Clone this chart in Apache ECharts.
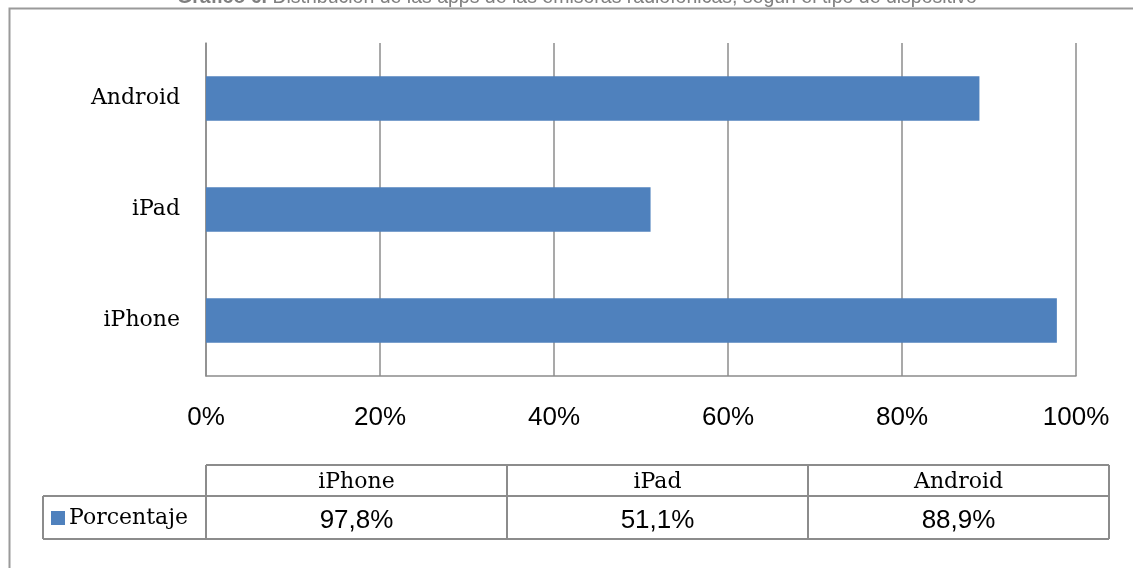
<!DOCTYPE html>
<html>
<head>
<meta charset="utf-8">
<script src="https://cdn.jsdelivr.net/npm/echarts@6/dist/echarts.min.js"></script>
<style>html,body{margin:0;padding:0;background:#fff;}#c{width:1133px;height:568px;}</style>
</head>
<body>
<div id="c"></div>
<script>
const titleBold = 'Gráfico 6.';
const titleRest = ' Distribución de las apps de las emisoras radiofónicas, según el tipo de dispositivo';
const categories = ['iPhone', 'iPad', 'Android'];
const seriesName = 'Porcentaje';
const values = [97.8, 51.1, 88.9];
const valueLabels = ['97,8%', '51,1%', '88,9%'];
const tickValues = [0, 20, 40, 60, 80, 100];

const W = 1133, H = 568;
const plot = {left: 206, right: 1076, top: 43, bottom: 376};
const table = {left: 206, right: 1109, legendLeft: 43, top: 465, mid: 496, bottom: 539};
const barColor = '#4F81BD';
const lineColor = '#8c8c8c';
const serif = '"DejaVu Serif", serif';
const sans = 'Arial, "Liberation Sans", sans-serif';

const chart = echarts.init(document.getElementById('c'), null, {renderer: 'canvas'});

const graphics = [];
// outer frame
graphics.push({type: 'polyline', shape: {points: [[9.5, H], [9.5, 8.5], [W, 8.5]]}, style: {stroke: '#9a9a9a', lineWidth: 2, fill: null}, z: 1});
// title (cut off at top)
graphics.push({type: 'text', x: 577, y: 8, style: {
  text: '{b|' + titleBold + '}' + titleRest,
  rich: {b: {fontWeight: 'bold', fontFamily: sans, fontSize: 19.5, fill: '#7f7f7f'}},
  fontFamily: sans, fontSize: 19.5, fill: '#7f7f7f', align: 'center', verticalAlign: 'bottom'}, z: 5});

// data table
const colW = (table.right - table.left) / categories.length;
const ts = {stroke: lineColor, lineWidth: 2, fill: null};
graphics.push({type: 'line', shape: {x1: table.left, y1: table.top, x2: table.right, y2: table.top}, style: ts});
graphics.push({type: 'line', shape: {x1: table.legendLeft, y1: table.mid, x2: table.right, y2: table.mid}, style: ts});
graphics.push({type: 'line', shape: {x1: table.legendLeft, y1: table.bottom, x2: table.right, y2: table.bottom}, style: ts});
graphics.push({type: 'line', shape: {x1: table.legendLeft, y1: table.mid, x2: table.legendLeft, y2: table.bottom}, style: ts});
for (let i = 0; i <= categories.length; i++) {
  const x = table.left + colW * i;
  graphics.push({type: 'line', shape: {x1: x, y1: table.top, x2: x, y2: table.bottom}, style: ts});
}
categories.forEach((c, i) => {
  const cx = table.left + colW * (i + 0.5);
  graphics.push({type: 'text', x: cx, y: (table.top + table.mid) / 2 + 2, style: {text: c, fontFamily: serif, fontSize: 22, fill: '#000', align: 'center', verticalAlign: 'middle'}});
  graphics.push({type: 'text', x: cx, y: (table.mid + table.bottom) / 2 + 3, style: {text: valueLabels[i], fontFamily: sans, fontSize: 26, fill: '#000', align: 'center', verticalAlign: 'middle'}});
});
graphics.push({type: 'rect', shape: {x: 51, y: 511, width: 14, height: 14}, style: {fill: barColor}});
graphics.push({type: 'text', x: 69, y: (table.mid + table.bottom) / 2 + 1, style: {text: seriesName, fontFamily: serif, fontSize: 22, fill: '#000', align: 'left', verticalAlign: 'middle'}});

chart.setOption({
  animation: false,
  backgroundColor: '#fff',
  grid: {left: plot.left, right: W - plot.right, top: plot.top, bottom: H - plot.bottom, containLabel: false},
  xAxis: {
    type: 'value', min: 0, max: 100, interval: 20,
    axisLine: {show: true, lineStyle: {color: lineColor, width: 1.5}},
    axisTick: {show: false},
    splitLine: {show: true, lineStyle: {color: lineColor, width: 1.5}},
    axisLabel: {formatter: v => tickValues.includes(v) ? v + '%' : '', fontFamily: sans, fontSize: 26, color: '#000', margin: 29}
  },
  yAxis: {
    type: 'category', data: categories,
    axisLine: {show: true, lineStyle: {color: lineColor, width: 1.5}},
    axisTick: {show: false},
    axisLabel: {fontFamily: serif, fontSize: 22, color: '#000', margin: 26, padding: [4, 0, 0, 0]}
  },
  series: [{
    name: seriesName, type: 'bar', data: values, barCategoryGap: '60%',
    itemStyle: {color: barColor}
  }],
  graphic: graphics
});
</script>
</body>
</html>
